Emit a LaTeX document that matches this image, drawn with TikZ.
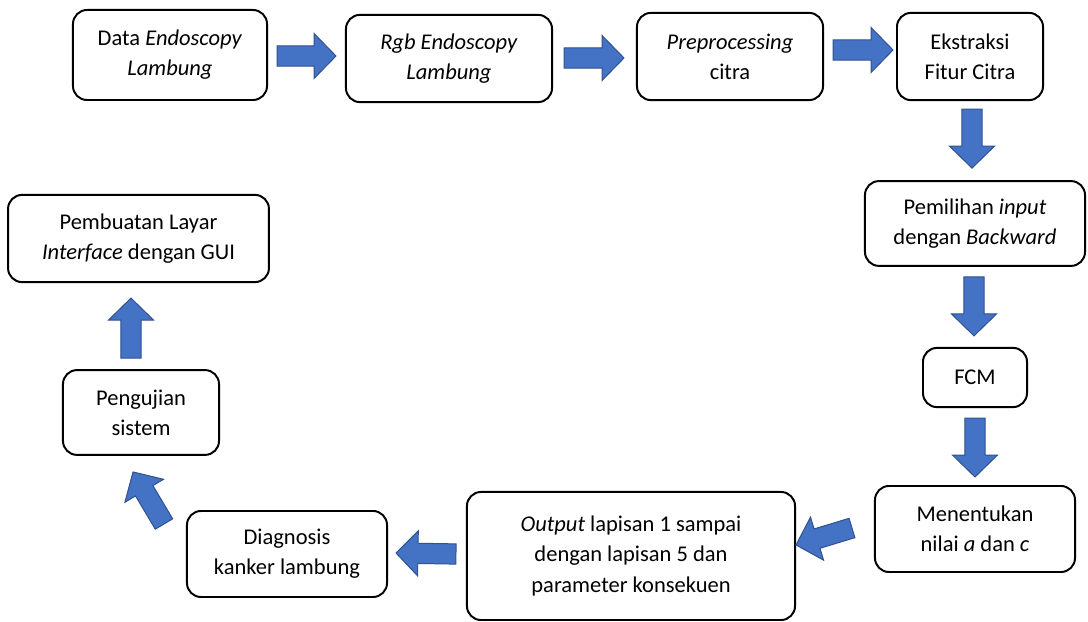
\documentclass[tikz,border=0pt]{standalone}
\usepackage{fontspec}
\setmainfont{Carlito}
\usetikzlibrary{calc}
\definecolor{arrowblue}{HTML}{4472C4}
\definecolor{arrowedge}{HTML}{2F528F}
\tikzset{
  box/.style={draw, line width=1.4pt, rounded corners=0.35cm, align=center, inner sep=2pt,
    font=\fontsize{16pt}{21.5pt}\selectfont},
  bigarrow/.style={fill=arrowblue, draw=arrowedge, line width=0.7pt, line join=miter}
}
\newcommand{\blockarrow}[2]{%
  \path (#1) coordinate (bs) (#2) coordinate (bt);
  \draw[bigarrow] let \p1=($(bt)-(bs)$), \n1={atan2(\y1,\x1)}, \n2={veclen(\x1,\y1)} in
    {[shift={(bs)}, rotate=\n1] (0pt,-7.2pt) -- ({\n2-15.6pt},-7.2pt) -- ({\n2-15.6pt},-16pt)
    -- (\n2,0pt) -- ({\n2-15.6pt},16pt) -- ({\n2-15.6pt},7.2pt) -- (0pt,7.2pt) -- cycle};}

\begin{document}
\begin{tikzpicture}[x=0.025cm, y=-0.025cm]
		\useasboundingbox (0,0) rectangle (1088,622);
		\node[box, minimum width=4.85cm, minimum height=2.25cm] (d1) at (170,55) {Data \textit{Endoscopy}\\\textit{Lambung}};
		\node[box, minimum width=5.15cm, minimum height=2.18cm] (d2) at (449,58.5) {\textit{Rgb Endoscopy}\\\textit{Lambung}};
		\node[box, minimum width=4.65cm, minimum height=2.18cm] (d3) at (730,56.5) {\textit{Preprocessing}\\citra};
		\node[box, minimum width=3.65cm, minimum height=2.18cm] (d4) at (970,56.5) {Ekstraksi\\Fitur Citra};
		\node[box, minimum width=5.5cm, minimum height=2.12cm] (d5) at (975,223.5) {Pemilihan \textit{input}\\dengan \textit{Backward}};
		\node[box, minimum width=2.6cm, minimum height=1.48cm] (d6) at (975,377.5) {FCM};
		\node[box, minimum width=5cm, minimum height=2.15cm] (d7) at (975,529) {Menentukan\\nilai \textit{a} dan \textit{c}};
		\node[box, minimum width=8.2cm, minimum height=3.2cm] (d8) at (631,556) {\textit{Output} lapisan 1 sampai\\dengan lapisan 5 dan\\parameter konsekuen};
		\node[box, minimum width=5cm, minimum height=2.15cm] (d9) at (287,554) {Diagnosis\\kanker lambung};
		\node[box, minimum width=3.9cm, minimum height=2.12cm] (d10) at (141,412.5) {Pengujian\\sistem};
		\node[box, minimum width=6.52cm, minimum height=2.18cm] (d11) at (138.5,238.5) {Pembuatan Layar\\\textit{Interface} dengan GUI};

		\blockarrow{$(d1.east)+(9,1)$}{$(d2.west)+(-9,-2.5)$}
		\blockarrow{$(d2.east)+(11,-0.5)$}{$(d3.west)+(-12,1.5)$}
		\blockarrow{$(d3.east)+(9,-6.5)$}{$(d4.west)+(-3,-6.5)$}
		\blockarrow{$(d4.south)+(2,8)$}{$(d5.north)+(-3,-12)$}
		\blockarrow{$(d5.south)+(-1,10)$}{$(d6.north)+(-1,-11)$}
		\blockarrow{$(d6.south)+(0,10)$}{$(d7.north)+(0,-8)$}
		\blockarrow{$(d7.west)+(-22,-1)$}{$(d8.east)+(0,-11)$}
		\blockarrow{$(d8.west)+(-10,-2)$}{$(d9.east)+(8,-1)$}
		\blockarrow{$(d9.north west)+(-22,14)$}{$(d10.south)+(-8,16)$}
		\blockarrow{$(d10.north)+(-10,-11)$}{$(d11.south)+(-7.5,15)$}
	\end{tikzpicture}
\end{document}
